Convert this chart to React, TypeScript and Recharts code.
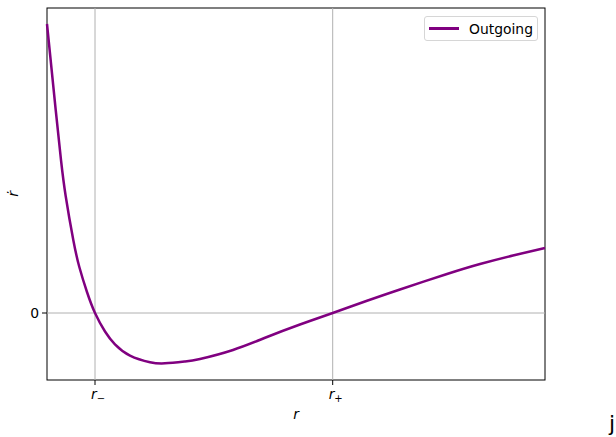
import * as React from "react";
import {
  LineChart, Line, XAxis, YAxis, ReferenceLine, Legend, Customized, usePlotArea,
} from "recharts";

// ── Data ────────────────────────────────────────────────────────────────

const rValues = [0, 1.75, 2.81, 3.75, 5.28, 6.49, 8.03, 9.64, 11.65, 13.65, 16.67, 20.68, 23.69, 27.71, 30.72, 37.35, 44.18, 50.8, 57.37, 64.26, 70.88, 80.32, 86.95, 93.57, 100];
const rDotValues = [2.89, 2.03, 1.53, 1.17, 0.73, 0.46, 0.21, 0, -0.185, -0.313, -0.426, -0.492, -0.503, -0.485, -0.46, -0.37, -0.24, -0.115, 0, 0.122, 0.235, 0.39, 0.49, 0.575, 0.65];

const rTicks = [9.64, 57.37];
const rTickSubs = ["−", "+"];
const seriesName = "Outgoing";

const FONT = "'DejaVu Sans', sans-serif";
const PURPLE = "#800080";
const GRID = "#b0b0b0";

const chartData = rValues.map((r, i) => ({ r, rdot: rDotValues[i] }));

// ── Overlays ────────────────────────────────────────────────────────────

function Frame() {
  const plot = usePlotArea();
  if (!plot) return null;
  return (
    <g>
      <rect x={plot.x} y={plot.y} width={plot.width} height={plot.height} fill="none" stroke="#000" strokeWidth={1} />
      <text x={plot.x + plot.width / 2} y={plot.y + plot.height + 39} textAnchor="middle" fontSize={13.9} fontStyle="italic" fontFamily={FONT} fill="#000">r</text>
      <text x={0} y={0} transform={`translate(18, ${plot.y + plot.height / 2}) rotate(-90)`} textAnchor="middle" fontSize={13.9} fontStyle="italic" fontFamily={FONT} fill="#000">ṙ</text>
      <text x={609} y={431} fontSize={22} fontFamily={FONT} fill="#000">j</text>
    </g>
  );
}

function RTick({ x, y, index }: { x?: number; y?: number; index?: number }) {
  const sub = rTickSubs[index ?? 0];
  return (
    <text x={(x ?? 0) + 3} y={(y ?? 0) + 12} textAnchor="middle" fontSize={13.9} fontFamily={FONT} fill="#000">
      <tspan fontStyle="italic">r</tspan>
      <tspan fontSize={10} dy={3}>{sub}</tspan>
    </text>
  );
}

function ZeroTick({ x, y, payload }: { x?: number; y?: number; payload?: { value: number } }) {
  return (
    <text x={(x ?? 0) - 1} y={(y ?? 0) + 5} textAnchor="end" fontSize={13.9} fontFamily={FONT} fill="#000">
      {payload?.value}
    </text>
  );
}

function LegendBox() {
  return (
    <div style={{
      boxSizing: "border-box", width: 114, height: 25, border: "1px solid #d6d6d6", borderRadius: 3,
      background: "rgba(255,255,255,0.8)", display: "flex", alignItems: "center", fontFamily: FONT, fontSize: 13.9,
    }}>
      <span style={{ display: "inline-block", width: 30, height: 2.5, background: PURPLE, marginLeft: 4, marginRight: 10 }} />
      <span>{seriesName}</span>
    </div>
  );
}

// ── Chart ───────────────────────────────────────────────────────────────

export default function App() {
  return (
    <div style={{ position: "absolute", left: 0, top: 0, width: 616, height: 437, background: "#fff" }}>
      <LineChart width={616} height={437} data={chartData} margin={{ top: 8, right: 71, bottom: 0, left: 0 }}>
        <XAxis
          dataKey="r"
          type="number"
          domain={[0, 100]}
          ticks={rTicks}
          height={57}
          axisLine={false}
          tickSize={5}
          tickLine={{ stroke: "#000", strokeWidth: 1 }}
          tick={<RTick />}
          interval={0}
        />
        <YAxis
          type="number"
          domain={[-0.67, 3.05]}
          ticks={[0]}
          width={47}
          axisLine={false}
          tickSize={5}
          tickLine={{ stroke: "#000", strokeWidth: 1 }}
          tick={<ZeroTick />}
          interval={0}
        />
        {rTicks.map((t) => (
          <ReferenceLine key={t} x={t} stroke={GRID} strokeWidth={1} />
        ))}
        <ReferenceLine y={0} stroke={GRID} strokeWidth={1} />
        <Line
          type="natural"
          dataKey="rdot"
          name={seriesName}
          stroke={PURPLE}
          strokeWidth={2.5}
          dot={false}
          activeDot={false}
          isAnimationActive={false}
        />
        <Customized component={<Frame />} />
        <Legend
          layout="horizontal"
          verticalAlign="middle"
          align="center"
          content={<LegendBox />}
          wrapperStyle={{ position: "absolute", top: 16, left: 424, width: 114 }}
        />
      </LineChart>
    </div>
  );
}
